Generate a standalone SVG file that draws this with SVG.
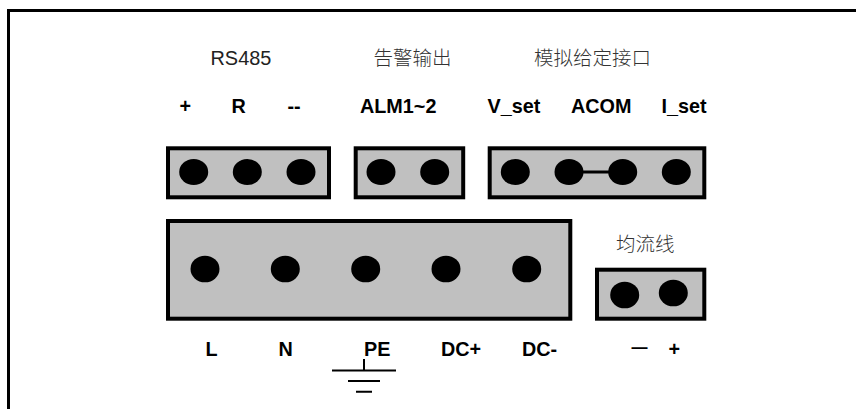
<svg xmlns="http://www.w3.org/2000/svg" width="856" height="409" viewBox="0 0 856 409">
<style>
.box{fill:#c0c0c0;stroke:#000;stroke-width:4}
.pin{fill:#000}
.wire{stroke:#000;fill:none}
.t{font-family:"Liberation Sans",Arial,sans-serif;font-size:19.8px;fill:#000}
.b{font-weight:700}
.r{font-size:19.9px;fill:#222}
.c{font-family:"Noto Sans CJK SC",sans-serif;font-size:19.5px;font-weight:300;fill:#333}
</style>
<rect width="856" height="409" fill="#fff"/>
<path id="frame" class="wire" stroke-width="3" d="M8.5 409V10.5H856"/>
<g id="rs485">
<rect class="box" x="168" y="148.3" width="161" height="49"/>
<ellipse class="pin" cx="193.7" cy="172" rx="14.5" ry="13"/>
<ellipse class="pin" cx="247.3" cy="172" rx="14.5" ry="13"/>
<ellipse class="pin" cx="301" cy="172" rx="14.5" ry="13"/>
</g>
<g id="alarm">
<rect class="box" x="355.7" y="148.3" width="107.5" height="49"/>
<ellipse class="pin" cx="381" cy="172" rx="14.5" ry="13"/>
<ellipse class="pin" cx="434.7" cy="172" rx="14.5" ry="13"/>
</g>
<g id="analog">
<rect class="box" x="489.7" y="148.3" width="214.6" height="49"/>
<ellipse class="pin" cx="515.3" cy="172" rx="14.5" ry="13"/>
<ellipse class="pin" cx="569" cy="172" rx="14.5" ry="13"/>
<ellipse class="pin" cx="622.7" cy="172" rx="14.5" ry="13"/>
<ellipse class="pin" cx="676.3" cy="172" rx="14.5" ry="13"/>
</g>
<g id="power">
<rect class="box" x="168" y="221" width="402.3" height="97.7"/>
<ellipse class="pin" cx="205" cy="269" rx="14.5" ry="13.3"/>
<ellipse class="pin" cx="285.3" cy="269" rx="14.5" ry="13.3"/>
<ellipse class="pin" cx="365.7" cy="269" rx="14.5" ry="13.3"/>
<ellipse class="pin" cx="446" cy="269" rx="14.5" ry="13.3"/>
<ellipse class="pin" cx="526.7" cy="269" rx="14.5" ry="13.3"/>
</g>
<g id="share">
<rect class="box" x="597" y="269.7" width="107.3" height="49"/>
<ellipse class="pin" cx="624.7" cy="295" rx="14.5" ry="13.3"/>
<ellipse class="pin" cx="673.3" cy="293" rx="14.5" ry="13.3"/>
</g>
<g id="connectors">
<path class="wire" stroke-width="3" d="M569 172H622.7"/>
<path class="wire" stroke-width="2" d="M364 359V370.5M332 370.5H396M348 381H380M356 391.7H372"/>
</g>
<g id="labels">
<text class="t r" x="210.5" y="65">RS485</text>
<text class="c" x="373.5" y="65">告警输出</text>
<text class="c" x="534" y="65">模拟给定接口</text>
<text class="c" x="616" y="251">均流线</text>
<text class="t b" x="179.5" y="113">+</text>
<text class="t b" x="231.5" y="113">R</text>
<text class="t b" x="287.5" y="113">--</text>
<text class="t b" x="360" y="113">ALM1~2</text>
<text class="t b" x="487.5" y="113">V_set</text>
<text class="t b" x="571" y="113">ACOM</text>
<text class="t b" x="661.5" y="113">I_set</text>
<text class="t b" x="205.5" y="355.7">L</text>
<text class="t b" x="278.5" y="355.7">N</text>
<text class="t b" x="364" y="355.7">PE</text>
<text class="t b" x="441" y="355.7">DC+</text>
<text class="t b" x="522" y="355.7">DC-</text>
<text class="t" x="631.5" y="353" style="font-size:16px;font-weight:700">—</text>
<text class="t b" x="668.5" y="355.7">+</text>
</g>
</svg>
